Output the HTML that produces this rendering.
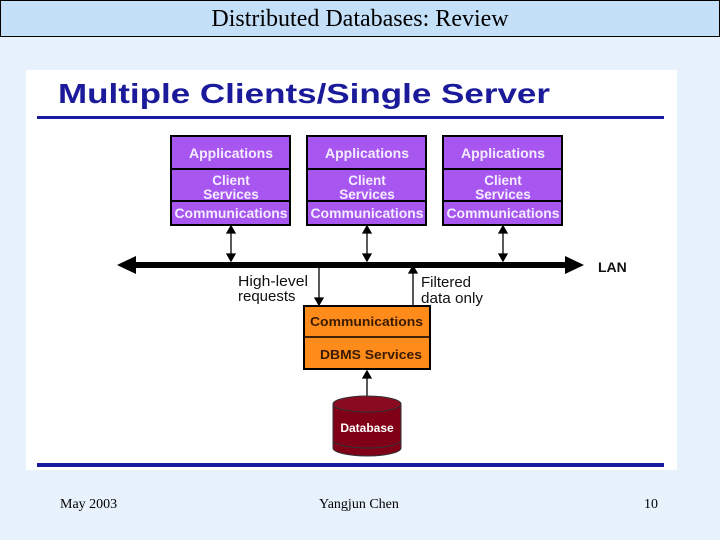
<!DOCTYPE html>
<html><head><style>
body{margin:0;width:720px;height:540px;background:#e8f2fc;position:relative;overflow:hidden;font-family:"Liberation Serif",serif}
.t{position:absolute;left:0;top:0;width:718px;height:35px;border:1px solid #000;background:#c4dff8;text-align:center;font-size:24px;line-height:37px}
.f{position:absolute;top:497px;font-size:14px}
</style></head><body>
<div class="t">Distributed Databases: Review</div>
<svg style="position:absolute;left:0;top:0" width="720" height="540" font-family="Liberation Sans, sans-serif" font-weight="bold">
<rect x="26" y="70" width="651" height="400" fill="#fff"/>
<text x="58" y="103" font-size="28" fill="#1a1a9a" textLength="492" lengthAdjust="spacingAndGlyphs">Multiple Clients/Single Server</text>
<rect x="37" y="116" width="627" height="3" fill="#1a1aa0"/>
<rect x="37" y="463" width="627" height="4" fill="#1a1aa0"/>
<g fill="#a757f0" stroke="#000" stroke-width="2">
<rect x="171" y="136" width="119" height="89"/><rect x="307" y="136" width="119" height="89"/><rect x="443" y="136" width="119" height="89"/>
</g>
<g stroke="#000" stroke-width="2">
<line x1="171" y1="169" x2="290" y2="169"/><line x1="171" y1="201" x2="290" y2="201"/>
<line x1="307" y1="169" x2="426" y2="169"/><line x1="307" y1="201" x2="426" y2="201"/>
<line x1="443" y1="169" x2="562" y2="169"/><line x1="443" y1="201" x2="562" y2="201"/>
</g>
<g fill="#f4ecff" font-size="13.5" text-anchor="middle">
<text x="231" y="158" textLength="84" lengthAdjust="spacingAndGlyphs">Applications</text><text x="231" y="185">Client</text><text x="231" y="199">Services</text><text x="231" y="218" textLength="113" lengthAdjust="spacingAndGlyphs">Communications</text>
<text x="367" y="158" textLength="84" lengthAdjust="spacingAndGlyphs">Applications</text><text x="367" y="185">Client</text><text x="367" y="199">Services</text><text x="367" y="218" textLength="113" lengthAdjust="spacingAndGlyphs">Communications</text>
<text x="503" y="158" textLength="84" lengthAdjust="spacingAndGlyphs">Applications</text><text x="503" y="185">Client</text><text x="503" y="199">Services</text><text x="503" y="218" textLength="113" lengthAdjust="spacingAndGlyphs">Communications</text>
</g>
<rect x="130" y="262" width="440" height="6" fill="#000"/>
<polygon points="117,265 136,256 136,274" fill="#000"/><polygon points="584,265 565,256 565,274" fill="#000"/>
<text x="598" y="272" font-size="14" fill="#111">LAN</text>
<g stroke="#000" stroke-width="1.3" fill="#000">
<line x1="231" y1="230" x2="231" y2="257"/><polygon points="231,226 227,233 235,233"/><polygon points="231,261 227,254 235,254"/>
<line x1="367" y1="230" x2="367" y2="257"/><polygon points="367,226 363,233 371,233"/><polygon points="367,261 363,254 371,254"/>
<line x1="503" y1="230" x2="503" y2="257"/><polygon points="503,226 499,233 507,233"/><polygon points="503,261 499,254 507,254"/>
<line x1="319" y1="268" x2="319" y2="300"/><polygon points="319,305 315,298 323,298"/>
<line x1="413" y1="270" x2="413" y2="305"/><polygon points="413,266 409,273 417,273"/>
<line x1="367" y1="375" x2="367" y2="403"/><polygon points="367,371 363,378 371,378"/><polygon points="367,407 363,400 371,400"/>
</g>
<g font-weight="normal" font-size="15" fill="#111">
<text x="238" y="286" textLength="70" lengthAdjust="spacingAndGlyphs">High-level</text><text x="238" y="301">requests</text>
<text x="421" y="287">Filtered</text><text x="421" y="303" textLength="62" lengthAdjust="spacingAndGlyphs">data only</text>
</g>
<rect x="304" y="306" width="126" height="63" fill="#ff8c1a" stroke="#000" stroke-width="2"/>
<line x1="304" y1="337" x2="430" y2="337" stroke="#000" stroke-width="1.5"/>
<g font-size="13" fill="#3a1a00">
<text x="310" y="326" textLength="113" lengthAdjust="spacingAndGlyphs">Communications</text><text x="320" y="359" textLength="102" lengthAdjust="spacingAndGlyphs">DBMS Services</text>
</g>
<path d="M333,404 L333,448 A34,8 0 0 0 401,448 L401,404 Z" fill="#800018" stroke="#333"/>
<ellipse cx="367" cy="404" rx="34" ry="8" fill="#8a0a20" stroke="#333"/>
<path d="M333,440 A34,8 0 0 0 401,440" fill="none" stroke="#333"/>
<text x="367" y="432" font-size="12" fill="#fff" text-anchor="middle">Database</text>
</svg>
<div class="f" style="left:60px">May 2003</div>
<div class="f" style="left:319px">Yangjun Chen</div>
<div class="f" style="left:644px">10</div>
</body></html>
